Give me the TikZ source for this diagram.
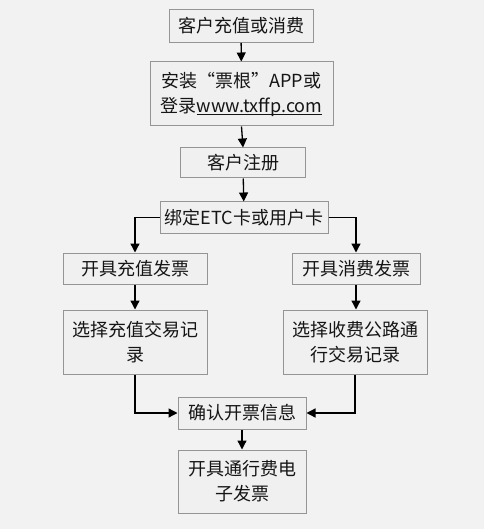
\documentclass[tikz,border=0pt]{standalone}
\usepackage{fontspec}
\setmainfont{Noto Sans CJK SC}
\usetikzlibrary{arrows.meta}
\definecolor{bg}{HTML}{F2F2F2}
\definecolor{boxfill}{HTML}{F0F0F0}
\definecolor{boxline}{HTML}{959595}
\definecolor{txt}{HTML}{151515}
\newcommand\myul[1]{\setbox0\hbox{#1}\rlap{\rule[-2.6pt]{\wd0}{0.9pt}}\box0}
\tikzset{
  box/.style={draw=boxline, fill=boxfill, line width=1pt, inner sep=0pt,
    text=txt, font=\fontsize{18}{25}\selectfont, align=center},
  arr/.style={line width=1.3pt, draw=black, -{Triangle[length=9pt,width=9pt]}}
}
\begin{document}
\begin{tikzpicture}[x=1pt,y=-1pt]
\fill[bg] (0,0) rectangle (484,529);
\useasboundingbox (0,0) rectangle (484,529);
\node[box, minimum width=144pt, minimum height=33pt] (b1) at (241,26) {客户充值或消费};
\node[box, minimum width=183pt, minimum height=64pt] (b2) at (241.5,94) {安装“票根”APP或\\登录\myul{www.txffp.com}};
\node[box, minimum width=125pt, minimum height=30pt] (b3) at (243,163) {客户注册};
\node[box, minimum width=168pt, minimum height=31pt] (b4) at (244,217.5) {绑定ETC卡或用户卡};
\node[box, minimum width=144pt, minimum height=31pt] (b5) at (135,268.5) {开具充值发票};
\node[box, minimum width=128pt, minimum height=31pt] (b6) at (356,268.5) {开具消费发票};
\node[box, minimum width=144pt, minimum height=64pt] (b7) at (135,342) {选择充值交易记\\录};
\node[box, minimum width=144pt, minimum height=64pt] (b8) at (355,342) {选择收费公路通\\行交易记录};
\node[box, minimum width=128pt, minimum height=32pt] (b9) at (242,413) {确认开票信息};
\node[box, minimum width=128pt, minimum height=63pt] (b10) at (242,481.5) {开具通行费电\\子发票};
\draw[arr] (b1) -- (b2);
\draw[arr] (b2.south) -- (b3.north);
\draw[arr] (b3) -- (b4);
\draw[arr] (b4.west) -| (b5.north);
\draw[arr] (b4.east) -| (b6.north);
\draw[arr] (b5) -- (b7);
\draw[arr] (b6.south) -- (b8.north -| b6.south);
\draw[arr] (b7.south) |- (b9.west);
\draw[arr] (b8.south) |- (b9.east);
\draw[arr] (b9) -- (b10);
\end{tikzpicture}
\end{document}
